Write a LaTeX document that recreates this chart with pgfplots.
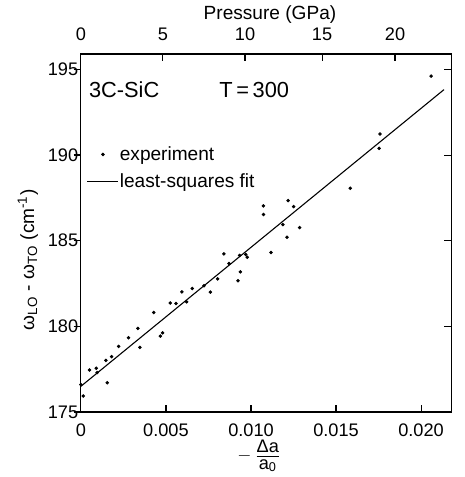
\documentclass[border=0pt]{standalone}
\usepackage{fontspec}
\setmainfont{Liberation Sans}
\usepackage{pgfplots}
\pgfplotsset{compat=1.18}

\pgfplotstableread{
x y
0 176.6
0.00014 175.93
0.0005 177.45
0.0009 177.55
0.00095 177.3
0.00147 178.01
0.00155 176.71
0.00180 178.23
0.00222 178.83
0.00280 179.33
0.00335 179.88
0.00347 178.77
0.00428 180.81
0.00467 179.43
0.00480 179.62
0.00525 181.36
0.00559 181.34
0.00594 182.01
0.00622 181.43
0.00655 182.21
0.00724 182.37
0.00761 182.0
0.00804 182.77
0.00841 184.23
0.00871 183.67
0.00924 182.66
0.00937 183.18
0.00933 184.14
0.00969 184.19
0.00978 184.04
0.01073 187.03
0.01073 186.53
0.01118 184.31
0.01188 185.94
0.01212 185.20
0.01218 187.34
0.01251 186.99
0.01286 185.77
0.01584 188.06
0.01753 190.39
0.01759 191.23
0.02059 194.61
}\expdata

\pgfplotstableread{
x y
0 176.5
0.02135 193.82
}\fitdata

\begin{document}
\begin{tikzpicture}
\pgfplotsset{
  every axis/.append style={
    width=204pt, height=197pt, scale only axis,
    xmin=0, xmax=0.0218, ymin=175, ymax=195.9,
    scaled ticks=false,
    axis line style={line width=0.6pt},
    every tick/.style={line width=0.6pt, black},
    major tick length=4pt,
    tick label style={font=\fontsize{10}{12}\selectfont},
    label style={font=\fontsize{10.5}{12}\selectfont},
    /pgf/number format/assume math mode=true,
  },
}
% main axis with data
\begin{axis}[
  clip=false,
  tick align=inside,
  xtick pos=bottom,
  xtick={0.005,0.010,0.015,0.020},
  xticklabels={0.005,0.010,0.015,0.020},
  extra x ticks={0},
  extra x tick labels={0},
  extra x tick style={major tick length=0pt},
  xticklabel style={yshift=-3pt},
  ytick pos=right,
  ytick={175,180,185,190,195},
  yticklabels={},
  xlabel={$-\,\frac{\mbox{Δa\rule[-1.5pt]{0pt}{1.5pt}}}{\mbox{\rule{0pt}{6.5pt}a\textsubscript{0}}}$},
  xlabel style={inner sep=0pt, at={(axis description cs:0.481,-0.123)}, anchor=center,
    font=\fontsize{10}{12}\selectfont},
  legend style={draw=none, fill=none, at={(rel axis cs:0.015,0.746)}, anchor=north west,
    font=\fontsize{10.5}{12}\selectfont, row sep=5pt, inner sep=0pt, nodes={inner sep=0.5pt}},
  legend cell align=left,
]
\addplot[only marks, mark=*, mark size=0.75pt, black] table {\expdata};
\addlegendentry{experiment}
\addplot[black, line width=0.6pt, legend image code/.code={\draw[line width=0.6pt] (0.17cm,0cm) -- (0.55cm,0cm); \path (0cm,0cm) -- (0.6cm,0cm);}] table {\fitdata};
\addlegendentry{least-squares fit}
\node[anchor=west, font=\fontsize{12}{14}\selectfont] at (axis cs:0.0001,193.8) {3C-SiC};
\node[anchor=west, font=\fontsize{12}{14}\selectfont] at (axis cs:0.00776,193.8) {T\,=\,300};
% frame of the whole picture, as in the reference
\path (rel axis cs:-0.2183,-0.1816) rectangle (rel axis cs:1.0054,1.1508);
\end{axis}
% top pressure axis
\begin{axis}[
  axis x line*=top, axis y line=none,
  tick align=inside,
  xtick={0,0.00482,0.00965,0.01418,0.01847},
  xticklabels={0,5,10,15,20},
  xticklabel style={yshift=4pt},
  xlabel={Pressure (GPa)},
  xlabel style={inner sep=0pt, at={(axis description cs:0.51,1.109)}, anchor=center},
]
\end{axis}
% left axis with outward ticks
\begin{axis}[
  axis y line*=left, axis x line=none,
  tick align=outside,
  ytick={175,180,185,190,195},
  yticklabel style={xshift=6pt},
  ylabel={ω\textsubscript{LO} - ω\textsubscript{TO} (cm\textsuperscript{-1})},
  ylabel style={inner sep=0pt, at={(axis description cs:-0.1429,0.425)}, anchor=center},
]
\end{axis}
\end{tikzpicture}
\end{document}
